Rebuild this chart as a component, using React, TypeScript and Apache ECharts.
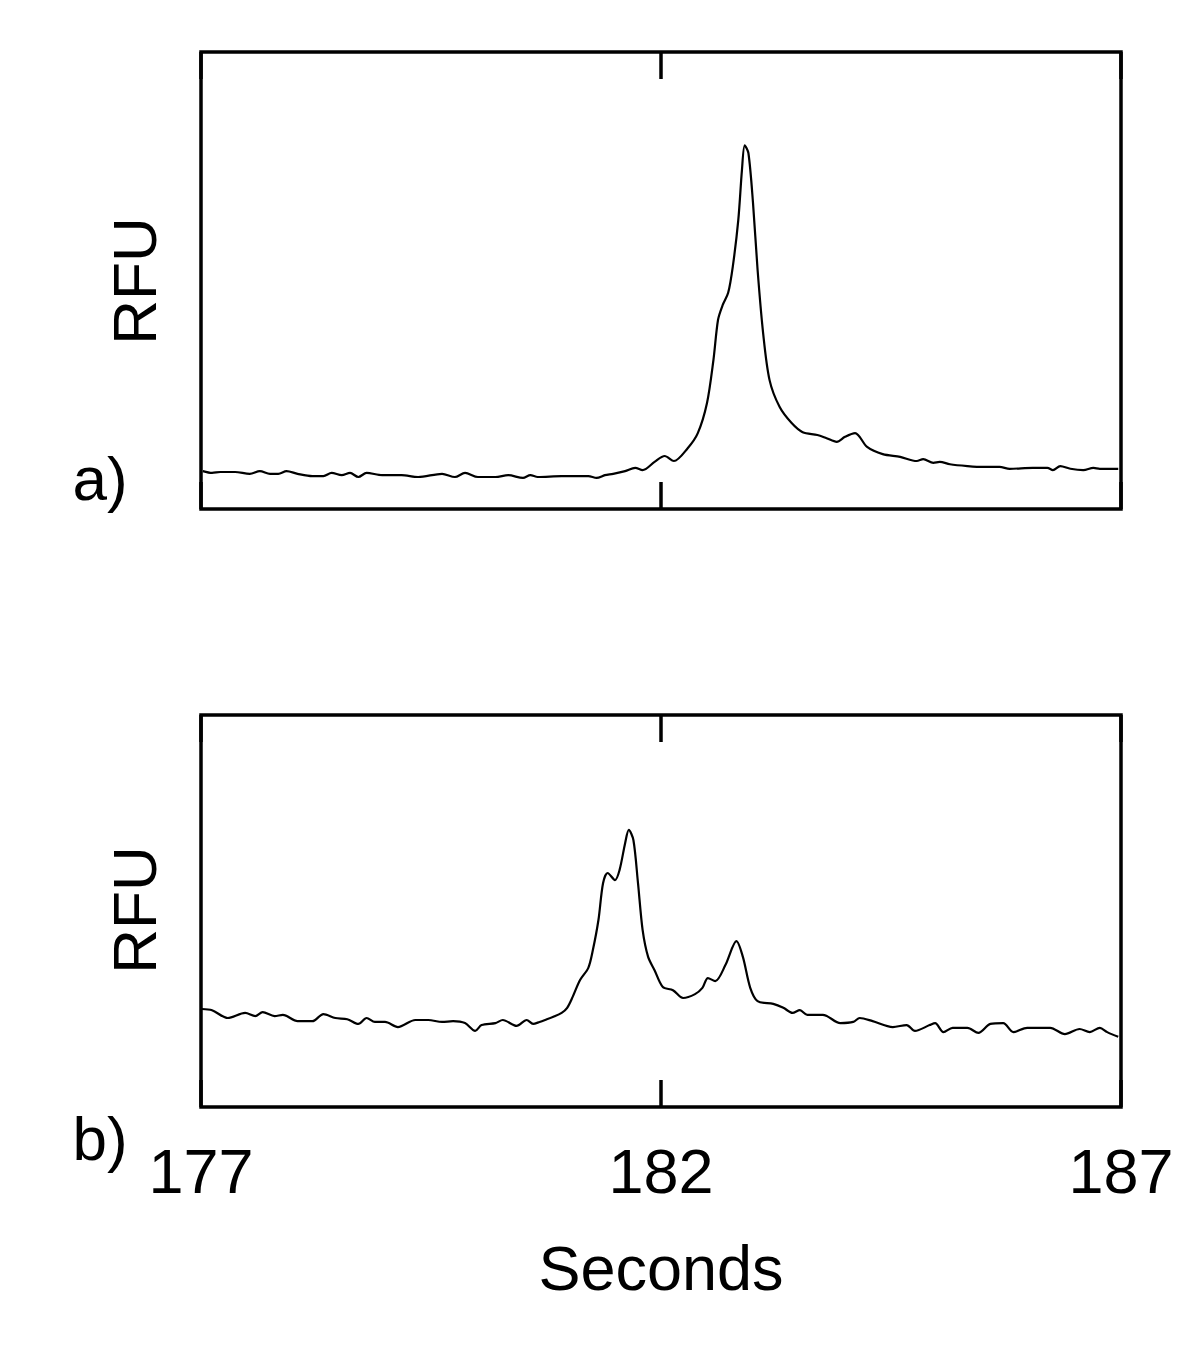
import React, { useEffect, useRef } from "react";
import * as echarts from "echarts";

// Panel a) trace: time in seconds, RFU (arbitrary units, 0-100 of panel height)
const topSeconds = [
  177.02, 177.12, 177.21, 177.37, 177.53, 177.64, 177.75, 177.84, 177.93, 178.05,
  178.21, 178.33, 178.42, 178.53, 178.62, 178.71, 178.8, 178.97, 179.18, 179.36,
  179.62, 179.76, 179.87, 180.01, 180.2, 180.34, 180.5, 180.58, 180.66, 180.92,
  181.21, 181.3, 181.39, 181.48, 181.61, 181.72, 181.8, 181.93, 182.04, 182.14,
  182.29, 182.4, 182.5, 182.57, 182.62, 182.67, 182.73, 182.78, 182.84, 182.88,
  182.91, 182.95, 183.0, 183.05, 183.11, 183.18, 183.29, 183.42, 183.54, 183.7,
  183.8, 183.91, 184.0, 184.11, 184.24, 184.41, 184.6, 184.78, 184.85, 184.96,
  185.03, 185.14, 185.33, 185.5, 185.68, 185.79, 186.04, 186.2, 186.26, 186.34,
  186.45, 186.59, 186.7, 186.77, 186.97,
];
const topRFU = [
  8.3, 7.9, 8.1, 8.1, 7.7, 8.3, 7.7, 7.7, 8.3, 7.7,
  7.2, 7.2, 7.9, 7.4, 7.9, 7.0, 7.9, 7.4, 7.4, 7.0,
  7.7, 7.0, 7.9, 7.0, 7.0, 7.4, 6.8, 7.4, 7.0, 7.2,
  7.2, 6.8, 7.4, 7.7, 8.3, 9.0, 8.5, 10.3, 11.6, 10.5,
  13.3, 16.6, 23.2, 32.6, 41.4, 44.6, 47.3, 53.0, 63.2, 74.2,
  79.6, 77.9, 67.0, 52.3, 38.5, 28.2, 22.3, 18.8, 16.8, 16.2,
  15.5, 14.7, 15.8, 16.6, 13.6, 12.0, 11.4, 10.5, 10.9, 10.1,
  10.3, 9.8, 9.4, 9.2, 9.2, 8.8, 9.0, 9.0, 8.5, 9.4,
  8.8, 8.5, 9.0, 8.8, 8.8,
];

// Panel b) trace
const bottomSeconds = [
  177.01, 177.12, 177.29, 177.48, 177.59, 177.67, 177.8, 177.89, 178.05, 178.21,
  178.33, 178.46, 178.59, 178.71, 178.8, 178.89, 179.0, 179.14, 179.33, 179.47,
  179.62, 179.74, 179.87, 179.98, 180.05, 180.2, 180.28, 180.43, 180.54, 180.61,
  180.68, 180.74, 180.83, 180.92, 180.98, 181.04, 181.12, 181.21, 181.26, 181.32,
  181.37, 181.42, 181.5, 181.55, 181.61, 181.65, 181.7, 181.75, 181.8, 181.86,
  181.93, 182.02, 182.13, 182.24, 182.37, 182.45, 182.51, 182.59, 182.7, 182.82,
  182.89, 182.97, 183.05, 183.22, 183.33, 183.43, 183.51, 183.59, 183.76, 183.95,
  184.09, 184.16, 184.3, 184.52, 184.67, 184.76, 184.92, 184.98, 185.07, 185.17,
  185.33, 185.45, 185.58, 185.72, 185.83, 185.98, 186.23, 186.39, 186.55, 186.66,
  186.77, 186.85, 186.97,
];
const bottomRFU = [
  25.0, 24.7, 22.7, 24.0, 23.2, 24.2, 23.2, 23.5, 21.9, 21.9,
  23.7, 22.7, 22.4, 21.2, 22.7, 21.7, 21.7, 20.4, 22.2, 22.2,
  21.7, 21.9, 21.4, 19.4, 20.9, 21.4, 22.2, 20.7, 22.2, 21.2,
  21.7, 22.2, 23.0, 24.0, 25.3, 28.1, 32.4, 35.5, 40.1, 47.7,
  57.1, 59.7, 57.9, 60.5, 67.3, 70.7, 68.1, 57.1, 45.2, 38.3,
  34.9, 30.6, 29.8, 27.8, 28.8, 30.4, 32.9, 32.1, 36.2, 42.3,
  38.3, 30.4, 27.0, 26.3, 25.3, 24.0, 24.7, 23.5, 23.5, 21.4,
  21.7, 22.7, 21.9, 20.4, 20.9, 19.4, 20.9, 21.4, 19.1, 20.2,
  20.2, 18.9, 21.2, 21.4, 19.1, 20.2, 20.2, 18.6, 19.9, 19.1,
  20.2, 19.1, 17.9,
];

const xTickLabels = ["177", "182", "187"];
const panelLabels = ["a)", "b)"];
const yAxisTitle = "RFU";
const xAxisTitle = "Seconds";

const X_MIN = Number(xTickLabels[0]);
const X_MAX = Number(xTickLabels[2]);
const X_STEP = Number(xTickLabels[1]) - X_MIN;

const FONT = '"Liberation Sans", Arial, sans-serif';

export default function App() {
  const ref = useRef<HTMLDivElement>(null);

  useEffect(() => {
    if (!ref.current) return;
    const chart = echarts.init(ref.current, undefined, { renderer: "svg" });

    const grids = [
      { left: 201, top: 52, width: 920, height: 457 },
      { left: 201, top: 715, width: 920, height: 392 },
    ].map((g) => ({
      ...g,
      show: true,
      borderColor: "#000",
      borderWidth: 3.5,
      backgroundColor: "transparent",
    }));

    const makeX = (gridIndex: number, position: "top" | "bottom", labels: boolean) => ({
      type: "value" as const,
      gridIndex,
      position,
      min: X_MIN,
      max: X_MAX,
      interval: X_STEP,
      axisLine: { show: false },
      axisTick: {
        show: true,
        inside: true,
        length: 27,
        interval: (_i: number, v: any) => Number(v) === X_MIN + X_STEP,
        lineStyle: { color: "#000", width: 3.5 },
      },
      splitLine: { show: false },
      axisLabel: {
        show: labels,
        color: "#000",
        fontFamily: FONT,
        fontSize: 63,
        margin: 32,
        formatter: (v: number) => String(v),
      },
    });

    const makeY = (gridIndex: number) => ({
      type: "value" as const,
      gridIndex,
      min: 0,
      max: 100,
      axisLine: { show: false },
      axisTick: { show: false },
      axisLabel: { show: false },
      splitLine: { show: false },
    });

    const textStyle = (size: number) => ({
      fill: "#000",
      fontSize: size,
      fontFamily: FONT,
      textAlign: "center",
      textVerticalAlign: "middle",
    });

    chart.setOption({
      animation: false,
      backgroundColor: "#fff",
      grid: grids,
      xAxis: [
        makeX(0, "bottom", false),
        makeX(0, "top", false),
        makeX(1, "bottom", true),
        makeX(1, "top", false),
      ],
      yAxis: [makeY(0), makeY(1)],
      series: [
        {
          type: "line",
          xAxisIndex: 0,
          yAxisIndex: 0,
          data: topSeconds.map((s, i) => [s, topRFU[i]]),
          showSymbol: false,
          smooth: 0.3,
          lineStyle: { color: "#000", width: 2.2 },
        },
        {
          type: "line",
          xAxisIndex: 2,
          yAxisIndex: 1,
          data: bottomSeconds.map((s, i) => [s, bottomRFU[i]]),
          showSymbol: false,
          smooth: 0.3,
          lineStyle: { color: "#000", width: 2.2 },
        },
      ],
      graphic: [
        { type: "text", x: 134, y: 281, rotation: Math.PI / 2, style: { text: yAxisTitle, ...textStyle(62) } },
        { type: "text", x: 134, y: 910, rotation: Math.PI / 2, style: { text: yAxisTitle, ...textStyle(62) } },
        { type: "text", x: 100, y: 478, style: { text: panelLabels[0], ...textStyle(62) } },
        { type: "text", x: 100, y: 1138, style: { text: panelLabels[1], ...textStyle(62) } },
        { type: "text", x: 661, y: 1268, style: { text: xAxisTitle, ...textStyle(63) } },
      ],
    });

    return () => chart.dispose();
  }, []);

  return (
    <div
      ref={ref}
      style={{ position: "absolute", left: 0, top: 0, width: 1200, height: 1365 }}
    />
  );
}
